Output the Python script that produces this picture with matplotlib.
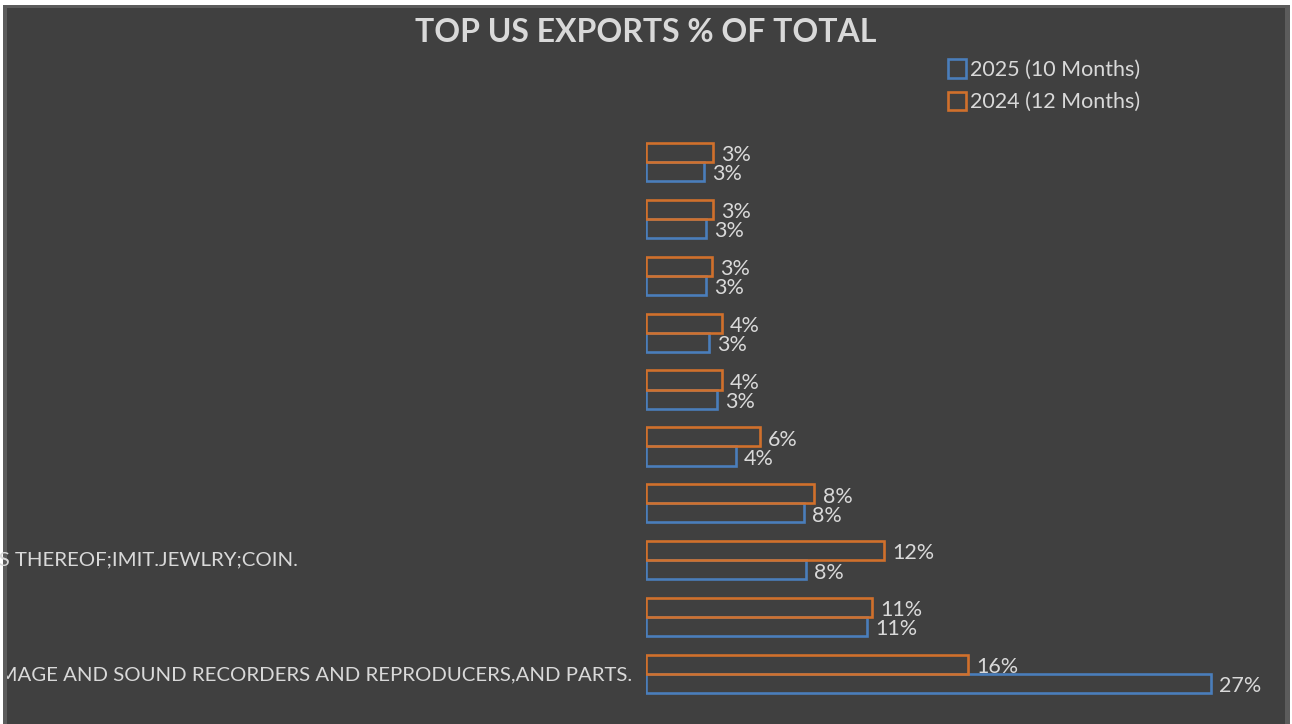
import matplotlib.pyplot as plt
from matplotlib.patches import Rectangle, Patch
from matplotlib.transforms import blended_transform_factory
import numpy as np

# categories listed top to bottom as they appear
categories = [
    "",
    "",
    "",
    "",
    "",
    "",
    "",
    "NATURAL OR CULTURED PEARLS,PREC STONES,PREC METALS,ARTICLES THEREOF;IMIT.JEWLRY;COIN.",
    "",
    "ELECTRICAL MACHINERY AND EQUIPMENT AND PARTS THEREOF; SOUND RECORDERS AND REPRODUCERS, TELEVISION IMAGE AND SOUND RECORDERS AND REPRODUCERS,AND PARTS.",
]
share_2025 = [2.81, 2.9, 2.9, 3.06, 3.43, 4.36, 7.66, 7.74, 10.7, 27.4]
share_2024 = [3.23, 3.25, 3.2, 3.67, 3.67, 5.53, 8.16, 11.55, 10.96, 15.6]
series_names = ["2025 (10 Months)", "2024 (12 Months)"]

BG = '#404040'
TXT = '#d9d9d9'
BLUE = '#4a7ebb'
ORANGE = '#d0702c'
FONT = 'Lato'

W, H = 1292, 724
fig = plt.figure(figsize=(W / 100, H / 100), dpi=100, facecolor='white')

# chart frame
fig.patches.append(Rectangle((3 / W, 0), 1287 / W, 1 - 5 / H, transform=fig.transFigure,
                             facecolor='#5c5c5c', edgecolor='none', zorder=-3))
chart_bg = Rectangle((7 / W, 0), 1278 / W, 1 - 8 / H, transform=fig.transFigure,
                     facecolor=BG, edgecolor='none', zorder=-2)
fig.patches.append(chart_bg)

ax = fig.add_axes([646 / W, 21.5 / H, 618.6 / W, 569 / H])
ax.set_facecolor('none')

n = len(categories)
y = np.arange(n)[::-1]
h = 0.335

for vals, off, col in [(share_2025, -h / 2, BLUE), (share_2024, h / 2, ORANGE)]:
    bars = ax.barh(y + off, vals, height=h, facecolor='none', edgecolor=col, linewidth=1.9)
    for b, v in zip(bars, vals):
        ax.annotate(f"{v:.0f}%", (b.get_width(), b.get_y() + b.get_height() / 2),
                    xytext=(6, -2), textcoords='offset points', ha='left', va='center',
                    color=TXT, fontsize=15.5, family=FONT)

ax.set_xlim(0, 30)
ax.set_ylim(-0.5, n - 0.5)
ax.set_yticks(y)
# wrapped excel labels: the jewelry one shows only its centred last line
tick_labels = [c if i == n - 1 else "" for i, c in enumerate(categories)]
ax.set_yticklabels(tick_labels, family=FONT, fontsize=14.7, color=TXT)
ax.tick_params(axis='y', length=0, pad=10)
ax.set_xticks([])
for s in ax.spines.values():
    s.set_visible(False)
for lab in ax.get_yticklabels():
    lab.set_clip_path(chart_bg)

trans = blended_transform_factory(fig.transFigure, ax.transData)
for i, c in enumerate(categories):
    if c and i != n - 1:
        t = ax.text(298 / W, y[i], c, transform=trans, ha='right', va='center',
                    family=FONT, fontsize=14.7, color=TXT, clip_on=False)
        t.set_clip_path(chart_bg)

fig.text(0.5, 1 - 32 / H, "TOP US EXPORTS % OF TOTAL", ha='center', va='center',
         fontsize=23, fontweight='bold', color=TXT, family=FONT)

handles = [Patch(facecolor='none', edgecolor=BLUE, linewidth=1.9),
           Patch(facecolor='none', edgecolor=ORANGE, linewidth=1.9)]
fig.legend(handles, series_names, loc='upper left', bbox_to_anchor=(948 / W, 1 - 59 / H),
           frameon=False, prop={'family': FONT, 'size': 15.5}, labelcolor=TXT,
           handlelength=0.85, handleheight=0.95, handletextpad=0.15, labelspacing=0.55,
           borderaxespad=0, borderpad=0)

fig.savefig('out.png', dpi=100, facecolor=fig.get_facecolor())
